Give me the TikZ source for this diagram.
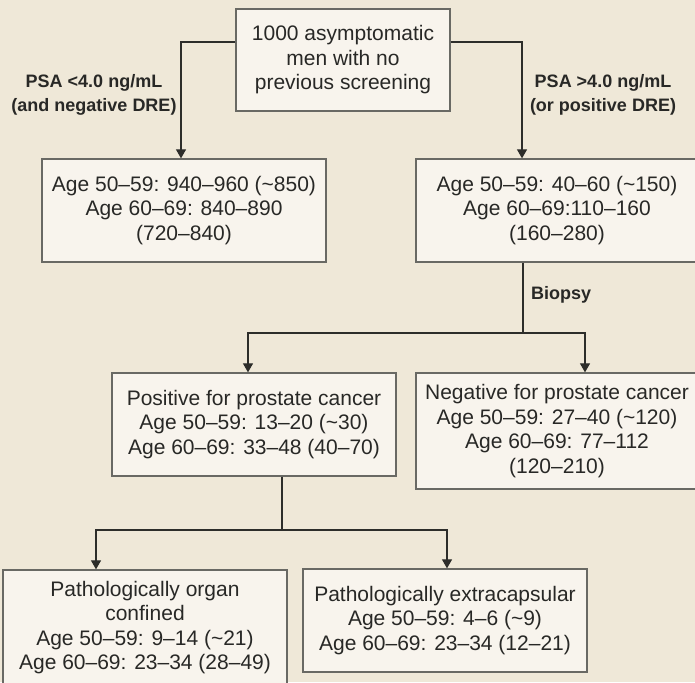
\documentclass[tikz,border=0pt]{standalone}
\usepackage{fontspec}
\setmainfont{Liberation Sans}
\usetikzlibrary{arrows.meta}
\definecolor{bgc}{RGB}{239,232,216}
\definecolor{boxfill}{RGB}{248,244,237}
\definecolor{boxline}{RGB}{105,105,100}
\definecolor{linec}{RGB}{45,45,42}
\definecolor{txt}{RGB}{40,40,38}
\tikzset{
  box/.style={draw=boxline, fill=boxfill, line width=1.3pt, align=center, inner sep=0pt,
    text=txt, font=\fontsize{21}{24.5}\selectfont},
  lbl/.style={align=center, text=txt, font=\bfseries\fontsize{18}{24}\selectfont, inner sep=0pt},
  conn/.style={draw=linec, line width=1.2pt},
  arr/.style={conn, -{Triangle[width=10pt,length=9pt]}},
}
\begin{document}
\begin{tikzpicture}[x=1pt,y=-1pt]
\useasboundingbox (0,0) rectangle (695,682);
\clip (0,0) rectangle (695,682);
\fill[bgc] (0,0) rectangle (695,682);

\node[box, minimum width=214pt, minimum height=102pt] (top) at (343,60)
  {1000 asymptomatic\\men with no\\previous screening};
\node[box, minimum width=284pt, minimum height=103pt] (L) at (184,210.5)
  {Age 50–59: 940–960 (\textasciitilde 850)\\Age 60–69: 840–890\\(720–840)};
\node[box, minimum width=282pt, minimum height=103pt] (R) at (557,210.5)
  {Age 50–59: 40–60 (\textasciitilde 150)\\Age 60–69:110–160\\(160–280)};
\node[box, minimum width=284pt, minimum height=103pt] (P) at (254,424.5)
  {Positive for prostate cancer\\Age 50–59: 13–20 (\textasciitilde 30)\\Age 60–69: 33–48 (40–70)};
\node[box, minimum width=282pt, minimum height=116pt] (N) at (557,431)
  {Negative for prostate cancer\\Age 50–59: 27–40 (\textasciitilde 120)\\Age 60–69: 77–112\\(120–210)};
\node[box, minimum width=284pt, minimum height=115pt] (BL) at (145,627.5)
  {Pathologically organ\\confined\\Age 50–59: 9–14 (\textasciitilde 21)\\Age 60–69: 23–34 (28–49)};
\node[box, minimum width=284pt, minimum height=103pt] (BR) at (445,620.5)
  {Pathologically extracapsular\\Age 50–59: 4–6 (\textasciitilde 9)\\Age 60–69: 23–34 (12–21)};

\node[lbl] (lblL) at (94,95) {PSA <4.0 ng/mL\\(and negative DRE)};
\node[lbl] (lblR) at (603,95) {PSA >4.0 ng/mL\\(or positive DRE)};
\node[lbl, anchor=west] (lblB) at (531,295) {Biopsy};

\draw[arr] ([yshift=18pt]top.west) -| ([xshift=-3pt]L.north);
\draw[arr] ([yshift=18pt]top.east) -| ([xshift=-35pt]R.north);

\coordinate (b) at (523,333);
\draw[conn] ([xshift=-34pt]R.south) -- (b);
\draw[arr] (b) -| ([xshift=-6pt]P.north);
\draw[arr] (b) -| ([xshift=28pt]N.north);

\coordinate (c) at (282,530);
\draw[conn] ([xshift=28pt]P.south) -- (c);
\draw[arr] (c) -| ([xshift=-49pt]BL.north);
\draw[arr] (c) -| ([xshift=2pt]BR.north);
\end{tikzpicture}
\end{document}
